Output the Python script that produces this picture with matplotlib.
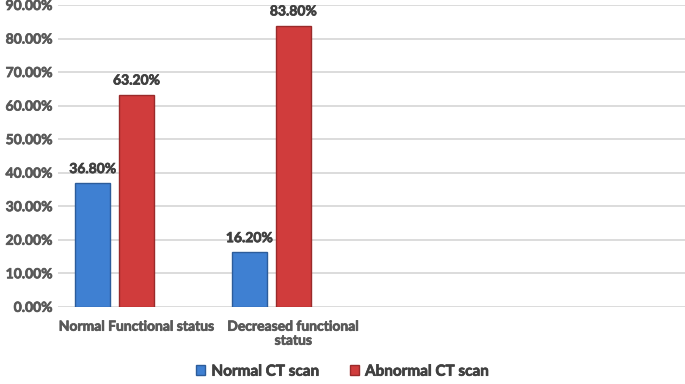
import matplotlib.pyplot as plt
from matplotlib.ticker import FuncFormatter
import matplotlib.patheffects as pe
import numpy as np

plt.rcParams['font.family'] = ['Lato', 'DejaVu Sans']

categories = ['Normal Functional status', 'Decreased functional\nstatus', '', '']
normal_ct = [36.8, 16.2]
abnormal_ct = [63.2, 83.8]
series_names = ['Normal CT scan', 'Abnormal CT scan']

blue = '#3f80d2'
red = '#d03c3c'

fig = plt.figure(figsize=(6.85, 3.84), dpi=100)
ax = fig.add_axes([0.085, 0.201, 0.915, 0.786])

x = np.arange(len(normal_ct))
w = 0.22
b1 = ax.bar(x - 0.28, normal_ct, w, color=blue, edgecolor='#2c5c9a', linewidth=1.0,
            label=series_names[0], zorder=3)
b2 = ax.bar(x, abnormal_ct, w, color=red, edgecolor='#9a2a2a', linewidth=1.0,
            label=series_names[1], zorder=3)

heavy = [pe.withStroke(linewidth=0.5, foreground='#404040')]
for bars, vals in [(b1, normal_ct), (b2, abnormal_ct)]:
    for b, v in zip(bars, vals):
        ax.annotate(f'{v:.2f}%', (b.get_x() + b.get_width() / 2, v),
                    xytext=(0, 6), textcoords='offset points', ha='center', va='bottom',
                    fontsize=10, fontweight='bold', color='#404040', path_effects=heavy)

ax.set_xlim(-0.5, 3.5)
ax.set_ylim(0, 90)
ax.set_yticks(np.arange(0, 91, 10))
ax.yaxis.set_major_formatter(FuncFormatter(lambda v, p: f'{v:.2f}%'))
ax.set_xticks(np.arange(len(categories)))
ax.set_xticklabels(categories)
ax.grid(axis='y', color='#d9d9d9', linewidth=1.3, zorder=0)
for s in ax.spines.values():
    s.set_visible(False)
ax.tick_params(length=0, labelsize=10, labelcolor='#595959')
ax.tick_params(axis='x', pad=10)
ax.tick_params(axis='y', pad=4)
grey = [pe.withStroke(linewidth=0.5, foreground='#595959')]
for t in ax.get_xticklabels() + ax.get_yticklabels():
    t.set_fontweight('bold')
    t.set_path_effects(grey)

leg = fig.legend(handles=[b1, b2], loc='lower center', bbox_to_anchor=(0.5, -0.022), ncol=2,
                 frameon=False, prop={'weight': 'bold', 'size': 11}, labelcolor='#404040',
                 handlelength=0.6, handleheight=0.6, handletextpad=0.4, columnspacing=2.0)
for t in leg.get_texts():
    t.set_path_effects([pe.withStroke(linewidth=0.5, foreground='#404040')])

fig.savefig('out.png', dpi=100)
